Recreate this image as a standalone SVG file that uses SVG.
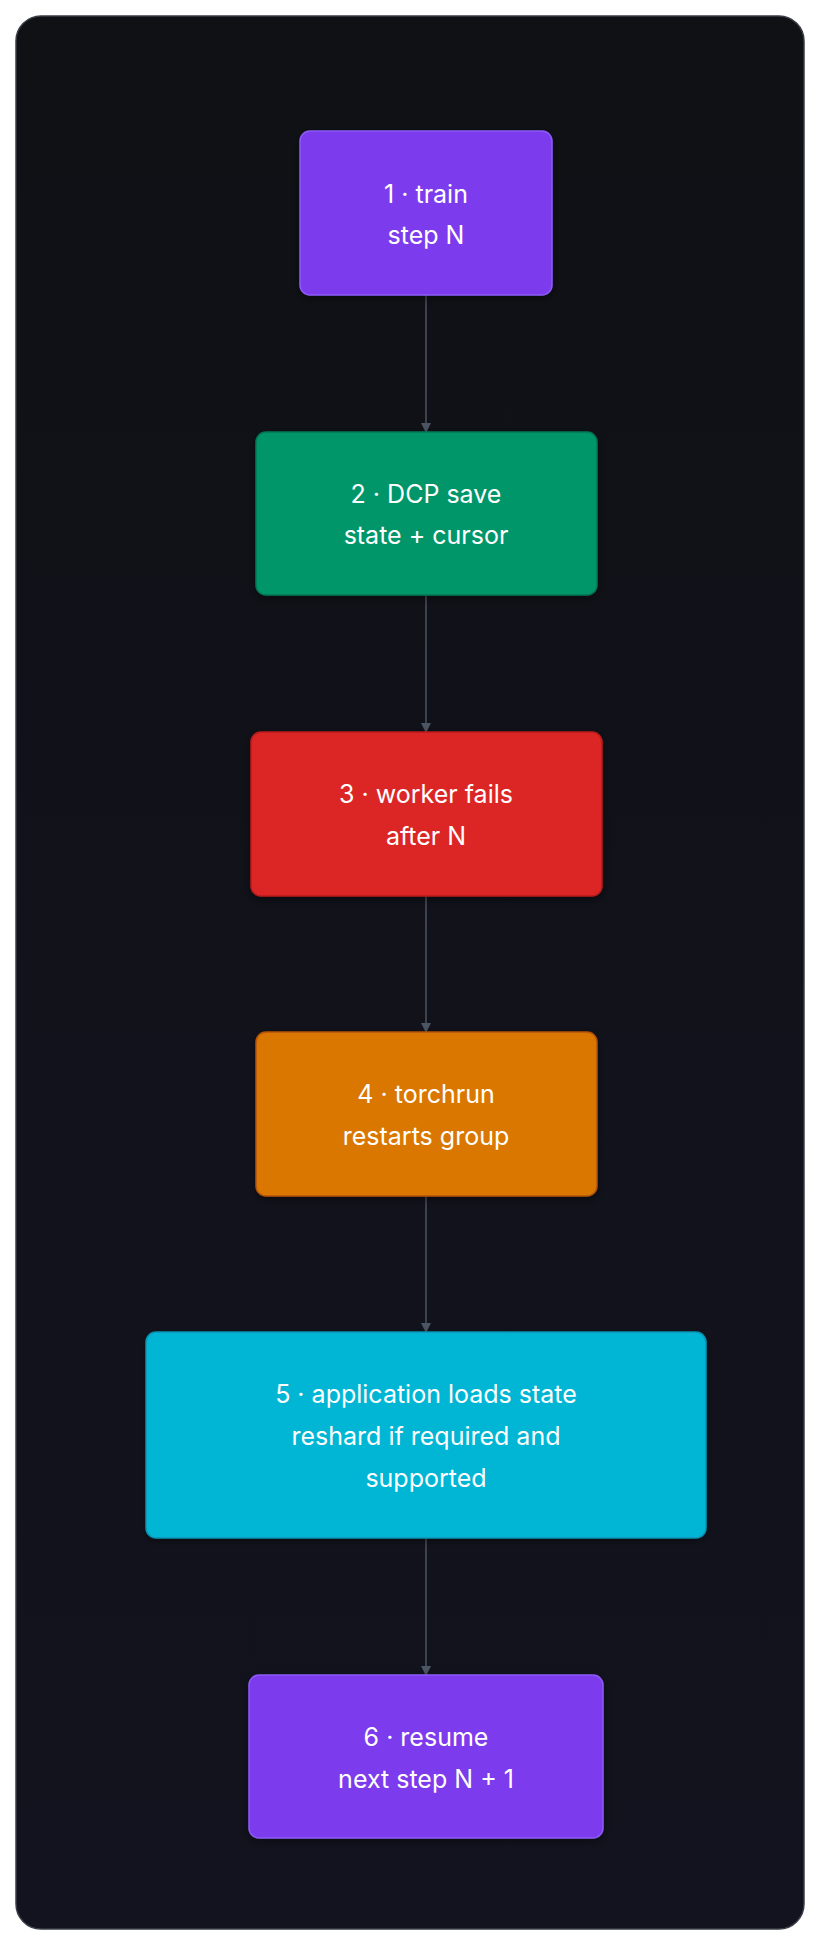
<svg xmlns="http://www.w3.org/2000/svg" width="820" height="1944" viewBox="0 0 820 1944">
<defs>
<linearGradient id="bg" x1="0" y1="0" x2="0" y2="1"><stop offset="0" stop-color="#0f1115"/><stop offset="1" stop-color="#13131f"/></linearGradient>
<marker id="ah" markerWidth="10" markerHeight="10" refX="9" refY="5" orient="auto" markerUnits="userSpaceOnUse"><path d="M0,0 L10,5 L0,10 z" fill="#4b5563"/></marker>
<filter id="sh" x="-10%" y="-10%" width="120%" height="130%"><feDropShadow dx="0" dy="3" stdDeviation="4" flood-color="#000" flood-opacity="0.4"/></filter>
</defs>
<style>
text{font-family:Inter,"Noto Sans",sans-serif;font-size:25px;fill:#fff;text-anchor:middle}
.e{stroke:#4b5563;stroke-width:1.5;fill:none;marker-end:url(#ah)}
.n{stroke-width:1.5;filter:url(#sh)}
</style>
<rect x="0" y="0" width="820" height="1944" fill="#fff"/>
<rect x="16" y="16" width="788" height="1913" rx="25" fill="url(#bg)" stroke="#3a3d46" stroke-width="1.5"/>
<g id="connectors">
<line class="e" x1="426" y1="295" x2="426" y2="432"/>
<line class="e" x1="426" y1="595" x2="426" y2="732"/>
<line class="e" x1="426" y1="896" x2="426" y2="1032"/>
<line class="e" x1="426" y1="1196" x2="426" y2="1332"/>
<line class="e" x1="426" y1="1538" x2="426" y2="1675"/>
</g>
<g id="n1"><rect class="n" x="300" y="131" width="252" height="164" rx="10" fill="#7c3aed" stroke="#8b5cf6"/><text x="426" y="203">1 · train</text><text x="426" y="244">step N</text></g>
<g id="n2"><rect class="n" x="256" y="432" width="341" height="163" rx="10" fill="#059669" stroke="#047857"/><text x="426" y="503">2 · DCP save</text><text x="426" y="544">state + cursor</text></g>
<g id="n3"><rect class="n" x="251" y="732" width="351" height="164" rx="10" fill="#dc2626" stroke="#b91c1c"/><text x="426" y="803">3 · worker fails</text><text x="426" y="845">after N</text></g>
<g id="n4"><rect class="n" x="256" y="1032" width="341" height="164" rx="10" fill="#d97706" stroke="#b45309"/><text x="426" y="1103">4 · torchrun</text><text x="426" y="1145">restarts group</text></g>
<g id="n5"><rect class="n" x="146" y="1332" width="560" height="206" rx="10" fill="#06b6d4" stroke="#0891b2"/><text x="426" y="1403">5 · application loads state</text><text x="426" y="1445">reshard if required and</text><text x="426" y="1487">supported</text></g>
<g id="n6"><rect class="n" x="249" y="1675" width="354" height="163" rx="10" fill="#7c3aed" stroke="#8b5cf6"/><text x="426" y="1746">6 · resume</text><text x="426" y="1788">next step N + 1</text></g>
</svg>
